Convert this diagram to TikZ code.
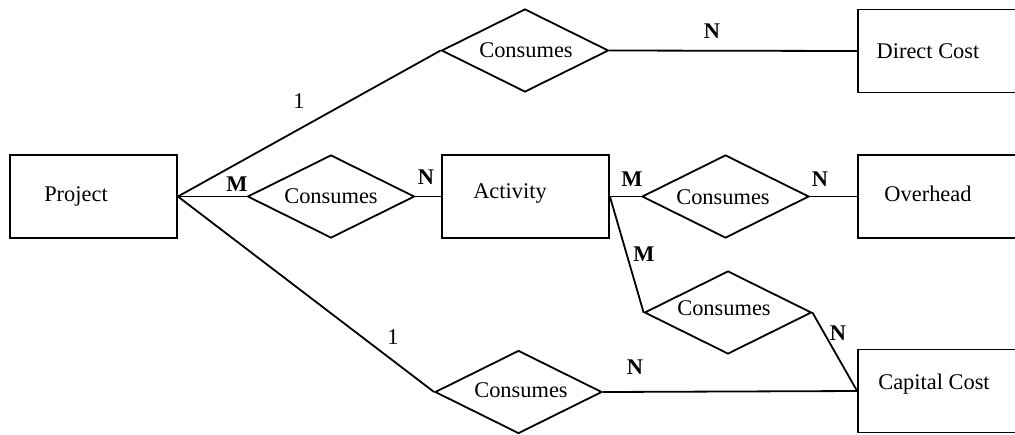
\documentclass[tikz,border=0pt]{standalone}
\usepackage{fontspec}
\setmainfont{Liberation Serif}
\usetikzlibrary{shapes.geometric}
\begin{document}
\begin{tikzpicture}[x=0.5pt,y=-0.5pt,
  every node/.style={font=\fontsize{11.2}{13}\selectfont},
  entity/.style={draw,line width=0.9pt,rectangle,inner sep=0pt,minimum width=#1*0.5pt,minimum height=41.5pt},
  relation/.style={draw,line width=0.9pt,diamond,inner sep=0pt,minimum width=83.5pt,minimum height=41.5pt},
  link/.style={line width=0.9pt},
  card/.style={font=\fontsize{11.2}{13}\selectfont\bfseries},
  plain/.style={font=\fontsize{11.2}{13}\selectfont}]
\useasboundingbox (0,0) rectangle (1015,434);
% entities
\node[entity=167] (project) at (93.5,196.5) {};
\node[entity=162] (direct) at (939,51) {};
\node[entity=167] (activity) at (525.5,196.5) {};
\node[entity=162] (overhead) at (939,196.5) {};
\node[entity=162] (capital) at (939,391) {};
% relations
\node[relation] (r1) at (525,50.5) {};
\node[relation] (r2) at (331,196.5) {};
\node[relation] (r3) at (725.5,196.5) {};
\node[relation] (r4) at (728,312.5) {};
\node[relation] (r5) at (518.5,392) {};
% texts
\node (tproject) at (76,196) {Project};
\node (tdirect) at (928,51) {Direct Cost};
\node (tactivity) at (510,193) {Activity};
\node (toverhead) at (928,194) {Overhead};
\node (tcapital) at (934,384) {Capital Cost};
\node (t1) at (526,50) {Consumes};
\node (t2) at (331,196) {Consumes};
\node (t3) at (723,197) {Consumes};
\node (t4) at (724,308) {Consumes};
\node (t5) at (521,390) {Consumes};
% connectors
\draw[link] (project.east) -- (r1.west);
\draw[link] (r1.east) -- (direct.west);
\draw[link] (project.east) -- (r2.west);
\draw[link] (r2.east) -- (activity.west);
\draw[link] (activity.east) -- (r3.west);
\draw[link] (r3.east) -- (overhead.west);
\draw[link] (activity.east) -- (r4.west);
\draw[link] (r4.east) -- (capital.west);
\draw[link] (project.east) -- (r5.west);
\draw[link] (r5.east) -- (capital.west);
% cardinalities
\node[plain] (c1) at (299,101) {1};
\node[card] (c2) at (712,31) {N};
\node[card] (c3) at (237,184) {M};
\node[card] (c4) at (426,177) {N};
\node[card] (c5) at (632,179) {M};
\node[card] (c6) at (820,179) {N};
\node[card] (c7) at (644,254) {M};
\node[card] (c8) at (838,333) {N};
\node[plain] (c9) at (393,337) {1};
\node[card] (c10) at (635,367) {N};
\end{tikzpicture}
\end{document}
